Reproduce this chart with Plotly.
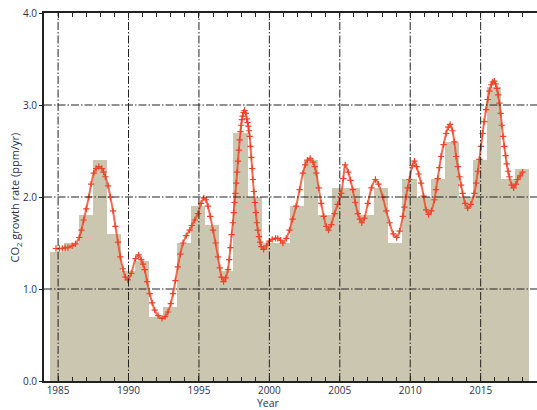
import plotly.graph_objects as go

# Annual CO2 growth rate bars (ppm/yr)
bar_years = list(range(1985, 2019))
bar_values = [1.4, 1.5, 1.8, 2.4, 1.6, 1.2, 1.3, 0.7, 0.8, 1.5,
              1.9, 1.7, 1.2, 2.7, 2.0, 1.5, 1.5, 1.9, 2.4, 1.8,
              2.1, 2.1, 1.8, 2.1, 1.5, 2.2, 2.0, 2.2, 2.6, 2.0,
              2.4, 3.2, 2.2, 2.3]

# Smoothed growth-rate curve
curve_t = [1984.85, 1985.1, 1985.3, 1985.5, 1985.7, 1986.0, 1986.23, 1986.5, 1986.66, 1986.82,
           1987.0, 1987.18, 1987.35, 1987.53, 1987.7, 1987.89, 1988.1, 1988.23, 1988.36, 1988.55,
           1988.71, 1988.9, 1989.07, 1989.25, 1989.42, 1989.6, 1989.78, 1989.95, 1990.2,
           1990.5, 1990.72, 1990.9, 1991.03, 1991.15, 1991.32, 1991.5, 1991.68, 1991.86, 1992.1,
           1992.38, 1992.6, 1992.8, 1993.0, 1993.16, 1993.33, 1993.5, 1993.68, 1993.87,
           1994.1, 1994.34, 1994.5, 1994.7, 1994.93, 1995.15, 1995.35, 1995.5, 1995.64,
           1995.8, 1996.0, 1996.18, 1996.35, 1996.48, 1996.6, 1996.75, 1996.9, 1997.06, 1997.15,
           1997.23, 1997.32, 1997.41, 1997.47, 1997.53, 1997.59, 1997.65, 1997.71, 1997.77,
           1997.83, 1997.89, 1997.95, 1998.0, 1998.05, 1998.1, 1998.17, 1998.24, 1998.32, 1998.4,
           1998.45, 1998.5, 1998.55, 1998.6, 1998.66, 1998.72, 1998.78, 1998.83, 1998.9,
           1998.97, 1999.04, 1999.11, 1999.18, 1999.26, 1999.34, 1999.42, 1999.59,
           1999.8, 2000.0, 2000.2, 2000.44, 2000.6, 2000.8, 2000.96, 2001.2, 2001.43,
           2001.65, 2001.9, 2002.15, 2002.38, 2002.55, 2002.7, 2002.9, 2003.1, 2003.22, 2003.33,
           2003.5, 2003.68, 2003.86, 2004.04, 2004.2, 2004.4, 2004.62, 2004.85, 2005.1,
           2005.25, 2005.38, 2005.6, 2005.76, 2005.92, 2006.1, 2006.28, 2006.42, 2006.56,
           2006.75, 2006.99, 2007.25, 2007.53, 2007.75, 2008.05, 2008.3, 2008.53, 2008.8,
           2009.04, 2009.25, 2009.47, 2009.58, 2009.7, 2009.82, 2009.94, 2010.15, 2010.3, 2010.45,
           2010.6, 2010.77, 2010.95, 2011.13, 2011.3, 2011.5, 2011.72, 2011.83, 2011.95, 2012.07,
           2012.19, 2012.37, 2012.55, 2012.7, 2012.83, 2013.0, 2013.13, 2013.26, 2013.38, 2013.5,
           2013.61, 2013.72, 2013.9, 2014.08, 2014.3, 2014.55, 2014.68, 2014.8, 2014.91, 2015.02,
           2015.14, 2015.25, 2015.38, 2015.5, 2015.62, 2015.75, 2015.86, 2015.97, 2016.06,
           2016.15, 2016.24, 2016.33, 2016.42, 2016.5, 2016.59, 2016.68, 2016.77, 2016.85,
           2016.95, 2017.04, 2017.2, 2017.34, 2017.5, 2017.62, 2017.8, 2017.98]
curve_v = [1.44, 1.44, 1.44, 1.45, 1.45, 1.47, 1.49, 1.56, 1.64, 1.75,
           1.87, 2.00, 2.14, 2.26, 2.31, 2.33, 2.31, 2.27, 2.22, 2.12,
           2.00, 1.85, 1.68, 1.51, 1.35, 1.22, 1.13, 1.10, 1.17,
           1.33, 1.37, 1.32, 1.27, 1.21, 1.08, 0.95, 0.85, 0.77, 0.71,
           0.68, 0.70, 0.75, 0.84, 0.95, 1.09, 1.24, 1.38, 1.50,
           1.58, 1.64, 1.69, 1.75, 1.82, 1.93, 1.99, 1.97, 1.90,
           1.79, 1.64, 1.50, 1.35, 1.23, 1.13, 1.08, 1.12, 1.21, 1.32,
           1.45, 1.59, 1.72, 1.83, 1.94, 2.04, 2.15, 2.27, 2.39,
           2.51, 2.62, 2.71, 2.78, 2.84, 2.88, 2.92, 2.94, 2.91, 2.85,
           2.81, 2.77, 2.72, 2.66, 2.55, 2.43, 2.31, 2.19, 2.06,
           1.94, 1.83, 1.72, 1.64, 1.57, 1.51, 1.46, 1.43,
           1.47, 1.52, 1.54, 1.55, 1.55, 1.53, 1.50, 1.55, 1.64,
           1.76, 1.90, 2.08, 2.26, 2.35, 2.40, 2.42, 2.38, 2.33, 2.26,
           2.10, 1.93, 1.79, 1.68, 1.64, 1.70, 1.82, 1.92, 2.04,
           2.20, 2.35, 2.27, 2.18, 2.08, 1.94, 1.82, 1.76, 1.72,
           1.77, 1.93, 2.10, 2.19, 2.14, 2.00, 1.85, 1.72, 1.60,
           1.56, 1.63, 1.79, 1.89, 2.00, 2.10, 2.19, 2.34, 2.39, 2.33,
           2.25, 2.15, 2.01, 1.86, 1.81, 1.85, 1.97, 2.08, 2.20, 2.32,
           2.44, 2.57, 2.69, 2.76, 2.79, 2.72, 2.60, 2.44, 2.33, 2.22,
           2.13, 2.04, 1.93, 1.88, 1.92, 2.04, 2.15, 2.28, 2.41, 2.55,
           2.69, 2.82, 2.95, 3.06, 3.15, 3.22, 3.25, 3.26, 3.23,
           3.18, 3.11, 3.02, 2.91, 2.78, 2.66, 2.55, 2.45, 2.36,
           2.28, 2.22, 2.13, 2.10, 2.14, 2.19, 2.23, 2.27]

x_ticks = [1985, 1990, 1995, 2000, 2005, 2010, 2015]
y_ticks = [0.0, 1.0, 2.0, 3.0, 4.0]

label_color = "#2b2f4e"
font_family = "Open Sans, DejaVu Sans, sans-serif"

fig = go.Figure()
fig.add_trace(go.Bar(
    x=bar_years, y=bar_values, width=1.0, offset=-0.55,
    marker=dict(color="#CBC6B0", line=dict(width=0)),
    showlegend=False, hoverinfo="skip",
))
fig.add_trace(go.Scatter(
    x=curve_t, y=curve_v, mode="lines+markers",
    line=dict(color="rgba(240,70,40,0.8)", width=2, shape="spline", smoothing=0.8),
    marker=dict(symbol="cross-thin", size=4.5, line=dict(color="#EE4328", width=1.2)),
    showlegend=False,
))

grid_style = dict(color="#222222", width=1, dash="8px,2px,1.5px,2px")
shapes = []
for xv in x_ticks:
    shapes.append(dict(type="line", xref="x", yref="paper", x0=xv, x1=xv, y0=0, y1=1,
                       line=grid_style, layer="above"))
for yv in y_ticks[1:-1]:
    shapes.append(dict(type="line", xref="paper", yref="y", x0=0, x1=1, y0=yv, y1=yv,
                       line=grid_style, layer="above"))

fig.update_layout(
    width=537, height=410,
    margin=dict(l=44, r=0, t=13, b=29),
    paper_bgcolor="white", plot_bgcolor="white",
    font=dict(family=font_family, size=10, color=label_color),
    bargap=0,
    shapes=shapes,
    annotations=[
        dict(text="Year", xref="paper", yref="paper", x=0.4545, y=-0.0598,
             xanchor="center", yanchor="middle", showarrow=False, borderpad=0,
             font=dict(size=10.5, color=label_color, family=font_family)),
        dict(text="CO<sub>2</sub> growth rate (ppm/yr)", xref="paper", yref="paper",
             x=-0.058, y=0.5, textangle=-90, xanchor="center", yanchor="middle",
             showarrow=False,
             font=dict(size=11, color=label_color, family=font_family)),
    ],
)
fig.update_xaxes(
    range=[1984, 2019], tickvals=x_ticks, ticks="inside", ticklen=5, tickwidth=1,
    tickcolor="#222222", showgrid=False, zeroline=False, ticklabelstandoff=-1,
    showline=True, linecolor="#222222", linewidth=1.5, mirror="ticks",
    minor=dict(dtick=1, tick0=1985, ticks="inside", ticklen=4, tickwidth=1,
               tickcolor="#222222", showgrid=False),
    tickfont=dict(size=10, color=label_color),
)
fig.update_yaxes(
    range=[0, 4], tickvals=y_ticks, tickformat=".1f", ticks="outside", ticklen=3,
    tickcolor="#222222", showgrid=False, zeroline=False,
    showline=True, linecolor="#222222", linewidth=2, mirror=False,
    tickfont=dict(size=10, color=label_color),
)

fig.write_html("out.html")
